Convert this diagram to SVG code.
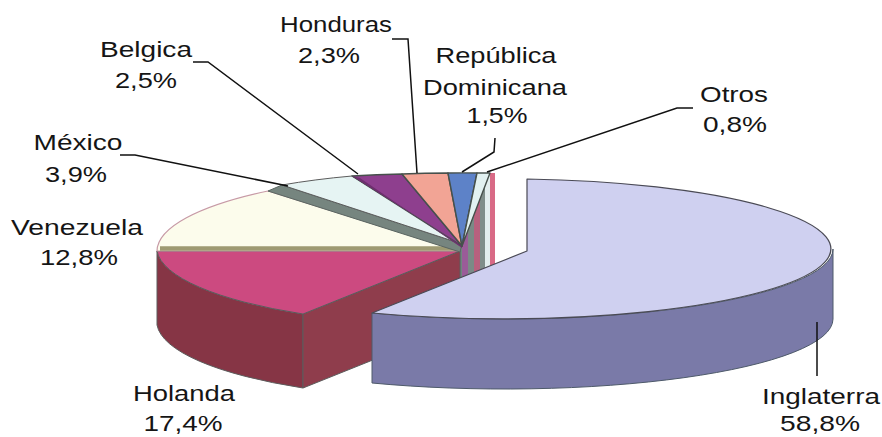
<svg xmlns="http://www.w3.org/2000/svg" width="882" height="437" viewBox="0 0 882 437">
<style>
  .lbl { font-family: "Liberation Sans", Arial, sans-serif; font-size: 22px; fill: #151515; text-anchor: middle; }
  .lead { fill: none; stroke: #111; stroke-width: 1.5; stroke-linejoin: miter; }
  .edge { stroke: #5c5c5c; stroke-width: 1; stroke-linejoin: round; }
  .edge2 { stroke: #46504c; stroke-width: 1.4; stroke-linejoin: round; }
</style>
<defs>
  <clipPath id="gapClip">
    <polygon points="455,252 490,173 495,173 495,335 455,335"/>
  </clipPath>
</defs>
<rect width="882" height="437" fill="#ffffff"/>

<!-- back walls / apex stripes -->
<g id="apex-walls" clip-path="url(#gapClip)">
  <rect x="455" y="173" width="7" height="162" fill="#6f877e"/>
  <rect x="462" y="173" width="6" height="162" fill="#9a5c98"/>
  <rect x="468" y="173" width="6" height="162" fill="#7b8a86"/>
  <rect x="474" y="173" width="6" height="162" fill="#b8607e"/>
  <rect x="480" y="173" width="5" height="162" fill="#7f8e8a"/>
  <rect x="485" y="173" width="5" height="162" fill="#e2eeee"/>
  <rect x="490" y="173" width="5" height="162" fill="#d86a86"/>
</g>

<g id="slice-holanda">
  <path class="edge" d="M157,251 A303,78 0 0,0 303,314 L303,388 A303,78 0 0,1 157,325 Z" fill="#863545"/>
  <path class="edge" d="M303,314 L460,251 L460,325 L303,388 Z" fill="#8f3d4c"/>
  <path class="edge" d="M460,251 L157,251 A303,78 0 0,0 303,314 Z" fill="#cc4a80"/>
</g>

<g id="slice-venezuela">
  <path d="M460,251 L157,251 A303,78 0 0,1 268,191 Z" fill="#fcfcec" stroke="#c79aa6" stroke-width="1.2"/>
  <path d="M160,248.5 L458,248.5" stroke="#9e9a72" stroke-width="4.5"/>
</g>

<g id="slice-mexico">
  <path d="M268,191 L282,185 L462,244 L460,252 Z" fill="#76857f" stroke="#5a6662" stroke-width="1"/>
  <path class="edge" d="M462,244 L282,185 A303,78 0 0,1 352,176 Z" fill="#e6f4f3"/>
</g>

<g id="slice-belgica">
  <path class="edge2" d="M462,246 L352,176 A303,78 0 0,1 402,174 Z" fill="#8e3f8e"/>
  <path d="M462,246 L352,176 L360,178 L462,248 Z" fill="#6e2f6e"/>
</g>

<g id="slice-honduras">
  <path class="edge2" d="M462,246 L402,174 A303,78 0 0,1 448,173 Z" fill="#f2a495"/>
</g>

<g id="slice-republica-dominicana">
  <path class="edge2" d="M462,246 L448,173 A303,78 0 0,1 477,173 Z" fill="#5d82c8"/>
</g>

<g id="slice-otros">
  <path class="edge2" d="M462,246 L477,173 A303,78 0 0,1 490,173 Z" fill="#e2f1f1"/>
</g>

<g id="slice-inglaterra">
  <path d="M372,313 A328,70 0 0,0 833,249 L833,319 A328,70 0 0,1 372,383 Z" fill="#7a7aa8" stroke="#4e5a6a" stroke-width="1"/>
  <path d="M527,251 L527,179 A328,70 0 1,1 372,313 Z" fill="#cfd0f0" stroke="#4a4a55" stroke-width="1.2" stroke-linejoin="round"/>
</g>

<g id="connectors">
  <polyline class="lead" points="193,62 208,62 358,174"/>
  <polyline class="lead" points="120,155 135,155 288,186"/>
  <polyline class="lead" points="392,39 408,39 417,173"/>
  <polyline class="lead" points="495,138 494,152 462,172"/>
  <polyline class="lead" points="693,108 677,108 487,172"/>
  <line class="lead" x1="817" y1="322" x2="817" y2="376"/>
</g>

<g id="label-honduras">
  <text class="lbl" x="336" y="32" textLength="112" lengthAdjust="spacingAndGlyphs">Honduras</text>
  <text class="lbl" x="329" y="63" textLength="62" lengthAdjust="spacingAndGlyphs">2,3%</text>
</g>
<g id="label-belgica">
  <text class="lbl" x="146" y="57" textLength="92" lengthAdjust="spacingAndGlyphs">Belgica</text>
  <text class="lbl" x="146" y="88" textLength="62" lengthAdjust="spacingAndGlyphs">2,5%</text>
</g>
<g id="label-republica-dominicana">
  <text class="lbl" x="496" y="63" textLength="121" lengthAdjust="spacingAndGlyphs">República</text>
  <text class="lbl" x="495" y="95" textLength="144" lengthAdjust="spacingAndGlyphs">Dominicana</text>
  <text class="lbl" x="497" y="123" textLength="61" lengthAdjust="spacingAndGlyphs">1,5%</text>
</g>
<g id="label-otros">
  <text class="lbl" x="734" y="102" textLength="68" lengthAdjust="spacingAndGlyphs">Otros</text>
  <text class="lbl" x="735" y="132" textLength="64" lengthAdjust="spacingAndGlyphs">0,8%</text>
</g>
<g id="label-mexico">
  <text class="lbl" x="78" y="150" textLength="89" lengthAdjust="spacingAndGlyphs">México</text>
  <text class="lbl" x="76" y="182" textLength="62" lengthAdjust="spacingAndGlyphs">3,9%</text>
</g>
<g id="label-venezuela">
  <text class="lbl" x="77" y="235" textLength="132" lengthAdjust="spacingAndGlyphs">Venezuela</text>
  <text class="lbl" x="79" y="265" textLength="78" lengthAdjust="spacingAndGlyphs">12,8%</text>
</g>
<g id="label-holanda">
  <text class="lbl" x="184" y="401" textLength="102" lengthAdjust="spacingAndGlyphs">Holanda</text>
  <text class="lbl" x="183" y="431" textLength="79" lengthAdjust="spacingAndGlyphs">17,4%</text>
</g>
<g id="label-inglaterra">
  <text class="lbl" x="821" y="404" textLength="118" lengthAdjust="spacingAndGlyphs">Inglaterra</text>
  <text class="lbl" x="820" y="431" textLength="80" lengthAdjust="spacingAndGlyphs">58,8%</text>
</g>
</svg>
